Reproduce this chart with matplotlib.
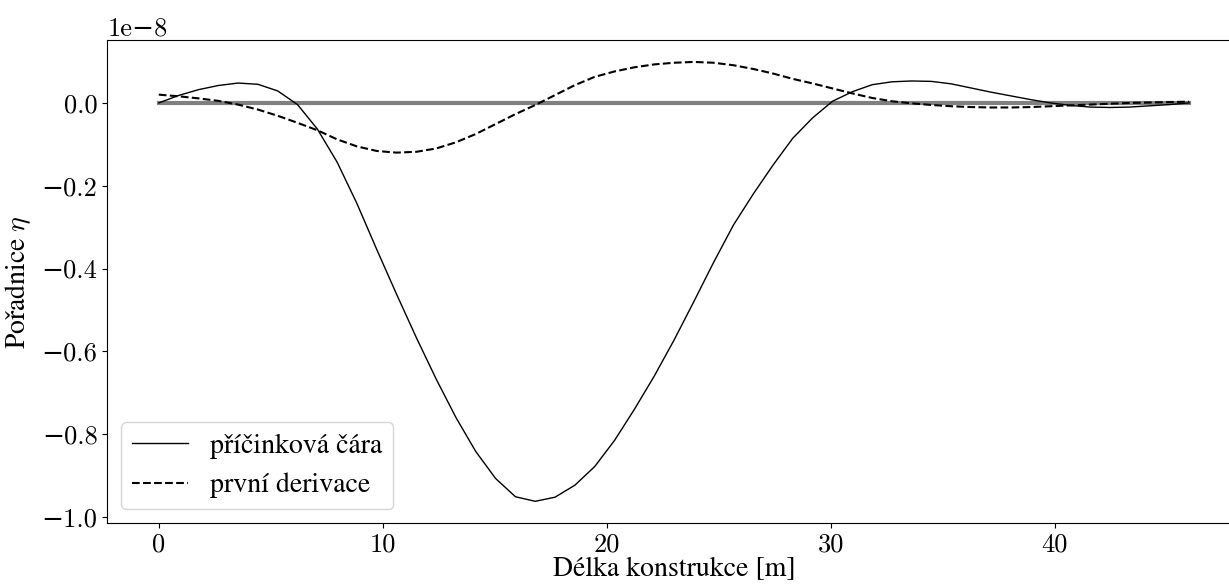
import numpy as np
import matplotlib
matplotlib.use("Agg")
import matplotlib.pyplot as plt

plt.rcParams['font.family'] = ['cmr10', 'DejaVu Serif']
plt.rcParams['mathtext.fontset'] = 'cm'
plt.rcParams['font.size'] = 19
plt.rcParams['axes.formatter.use_mathtext'] = False

# labels need accented letters that cmr10 does not have
label_font = ['STIXGeneral', 'DejaVu Serif']

# x grid along the structure [m]
x = np.linspace(0, 46, 53)

# influence line (values in 1e-8)
prucinkova = [
    0.000, 0.018, 0.032, 0.042, 0.048, 0.045, 0.029, -0.004, -0.063, -0.143,
    -0.243, -0.354, -0.462, -0.567, -0.667, -0.760, -0.842, -0.907, -0.951, -0.962,
    -0.952, -0.923, -0.878, -0.815, -0.740, -0.660, -0.573, -0.480, -0.385, -0.295,
    -0.220, -0.150, -0.085, -0.036, 0.004, 0.027, 0.044, 0.051, 0.053, 0.052,
    0.046, 0.036, 0.026, 0.017, 0.008, 0.000, -0.006, -0.010, -0.011, -0.010,
    -0.007, -0.004, 0.000,
]

# first derivative (values in 1e-8)
derivace = [
    0.020, 0.016, 0.011, 0.005, -0.004, -0.016, -0.031, -0.048, -0.066, -0.088,
    -0.105, -0.116, -0.120, -0.118, -0.110, -0.095, -0.075, -0.051, -0.027, -0.005,
    0.019, 0.043, 0.063, 0.076, 0.086, 0.093, 0.097, 0.099, 0.097, 0.091,
    0.082, 0.071, 0.058, 0.047, 0.035, 0.023, 0.012, 0.004, -0.001, -0.005,
    -0.008, -0.010, -0.011, -0.011, -0.010, -0.008, -0.006, -0.004, -0.002, 0.000,
    0.001, 0.002, 0.003,
]

eta = np.array(prucinkova) * 1e-8
deta = np.array(derivace) * 1e-8

fig = plt.figure(figsize=(12.29, 5.85), dpi=100)
# right edge of the axes runs past the figure, as in the original crop
ax = fig.add_axes([0.0873, 0.1055, 0.9222, 0.8262])

ax.plot(x, np.zeros_like(x), color='gray', lw=3)
ax.plot(x, eta, color='black', lw=1, label='příčinková čára')
ax.plot(x, deta, color='black', lw=1.5, ls='--', label='první derivace')

ax.set_xlabel('Délka konstrukce [m]', family=label_font, size=20, labelpad=0)
ax.set_ylabel(r'Pořadnice $\eta$', family=label_font, size=20, labelpad=6)
ax.legend(loc='lower left', prop={'family': label_font, 'size': 20})

fig.savefig('out.png', dpi=100)
